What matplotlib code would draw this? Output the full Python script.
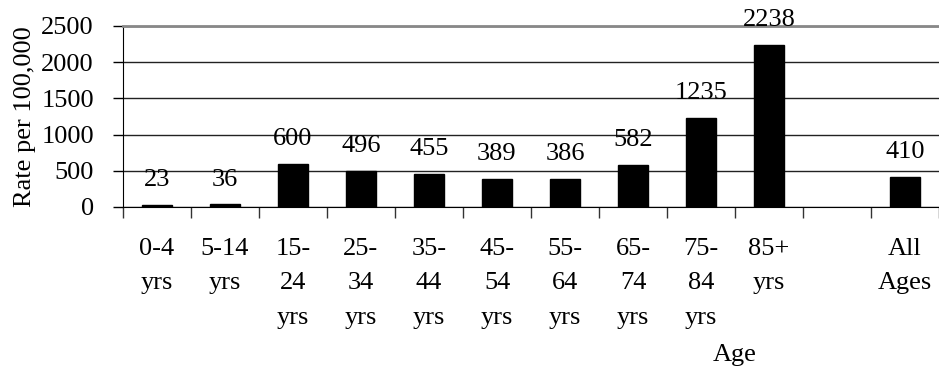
import numpy as np
import matplotlib.pyplot as plt

# Rate per 100,000 by age group
age_labels = ['0-4\nyrs', '5-14\nyrs', '15-\n24\nyrs', '25-\n34\nyrs',
              '35-\n44\nyrs', '45-\n54\nyrs', '55-\n64\nyrs', '65-\n74\nyrs',
              '75-\n84\nyrs', '85+\nyrs', '', 'All\nAges']
rates = [23, 36, 600, 496, 455, 389, 386, 582, 1235, 2238, None, 410]

plt.rcParams['font.family'] = ['Liberation Serif', 'DejaVu Serif']
fs = 19

fig = plt.figure(figsize=(9.39, 3.70), dpi=100)
ax = fig.add_axes([123/939, 1 - 207/370, 1 - 123/939, (207 - 26)/370])

x = np.arange(len(age_labels))
for xi, val in zip(x, rates):
    if val is None:
        continue
    ax.bar(xi, val, width=0.43, color='black', edgecolor='black', zorder=3)
    ax.annotate(str(val), (xi, val), xytext=(0, 10), textcoords='offset points',
                ha='center', va='bottom', fontsize=fs)

ax.set_xlim(-0.5, len(age_labels) - 0.5)
ax.set_ylim(0, 2500)
ax.set_yticks(np.arange(0, 2501, 500))
ax.yaxis.grid(True, color='#222222', linewidth=1.0, zorder=0)
ax.set_axisbelow(True)

# category labels centred, tick marks between categories
ax.set_xticks(x)
ax.set_xticklabels(age_labels, fontsize=fs, linespacing=1.75, va='top')
ax.tick_params(axis='x', which='major', length=0, pad=22)
ax.set_xticks(np.arange(-0.5, len(age_labels)), minor=True)
ax.tick_params(axis='x', which='minor', length=8, width=1, color='#333333')
ax.tick_params(axis='y', length=7, width=1, labelsize=fs, pad=14)

ax.spines['right'].set_visible(False)
ax.spines['top'].set_color('#888888')
ax.spines['top'].set_linewidth(2)
ax.spines['left'].set_color('black')
ax.spines['bottom'].set_color('black')

ax.set_ylabel('Rate per 100,000', fontsize=fs, labelpad=4)
fig.text(735/939, 1 - 355/370, 'Age', fontsize=fs, ha='center', va='center')

fig.savefig('out.png', dpi=100)
